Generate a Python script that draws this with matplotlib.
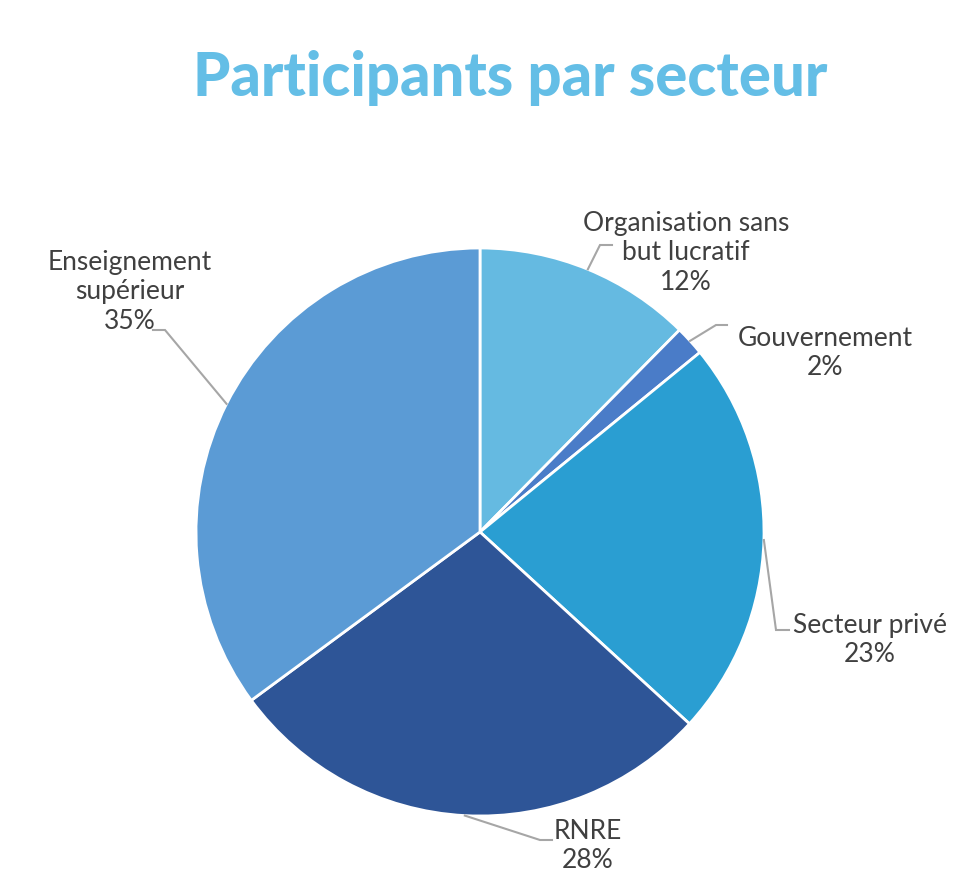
import numpy as np
import matplotlib.pyplot as plt

plt.rcParams['font.family'] = ['Lato', 'DejaVu Sans']

# data
sectors = ['Organisation sans\nbut lucratif', 'Gouvernement', 'Secteur privé',
           'RNRE', 'Enseignement\nsupérieur']
values = [12.4, 1.7, 22.7, 28.1, 35.1]
colors = ['#65BAE1', '#4A7CC8', '#2A9ED2', '#2E5597', '#5B9BD5']

W, H = 959, 891
fig = plt.figure(figsize=(W / 100, H / 100), dpi=100)
ax = fig.add_axes([0, 0, 1, 1])
ax.set_xlim(0, W)
ax.set_ylim(0, H)
ax.set_aspect('equal')
ax.axis('off')

cx, cy, r = 480, H - 532, 284
wedges, _ = ax.pie(values, colors=colors, startangle=90, counterclock=False,
                   center=(cx, cy), radius=r,
                   wedgeprops=dict(edgecolor='white', linewidth=2))
ax.set_xlim(0, W)
ax.set_ylim(0, H)

# label layout: (text x, text y, elbow x, elbow y, horizontal end x)
layout = [
    (686, H - 253, 600, H - 245, 612),
    (825, H - 353, 716, H - 325, 727),
    (870, H - 640, 776, H - 630, 789),
    (588, H - 846, 540, H - 840, 552),
    (130, H - 292, 165, H - 330, 153),
]

total = sum(values)
for w, name, v, (tx, ty, ex, ey, hx) in zip(wedges, sectors, values, layout):
    mid = np.deg2rad((w.theta1 + w.theta2) / 2)
    px, py = cx + r * np.cos(mid), cy + r * np.sin(mid)
    ax.plot([px, ex, hx], [py, ey, ey], color='#A6A6A6', lw=1.5,
            solid_joinstyle='miter')
    pct = round(v / total * 100)
    ax.text(tx, ty, f'{name}\n{pct}%', ha='center', va='center',
            fontsize=19, color='#404040', linespacing=1.22)

ax.text(510, H - 78, 'Participants par secteur', ha='center', va='center',
        fontsize=43, fontweight='black', color='#64BEE6')

fig.savefig('out.png', dpi=100)
